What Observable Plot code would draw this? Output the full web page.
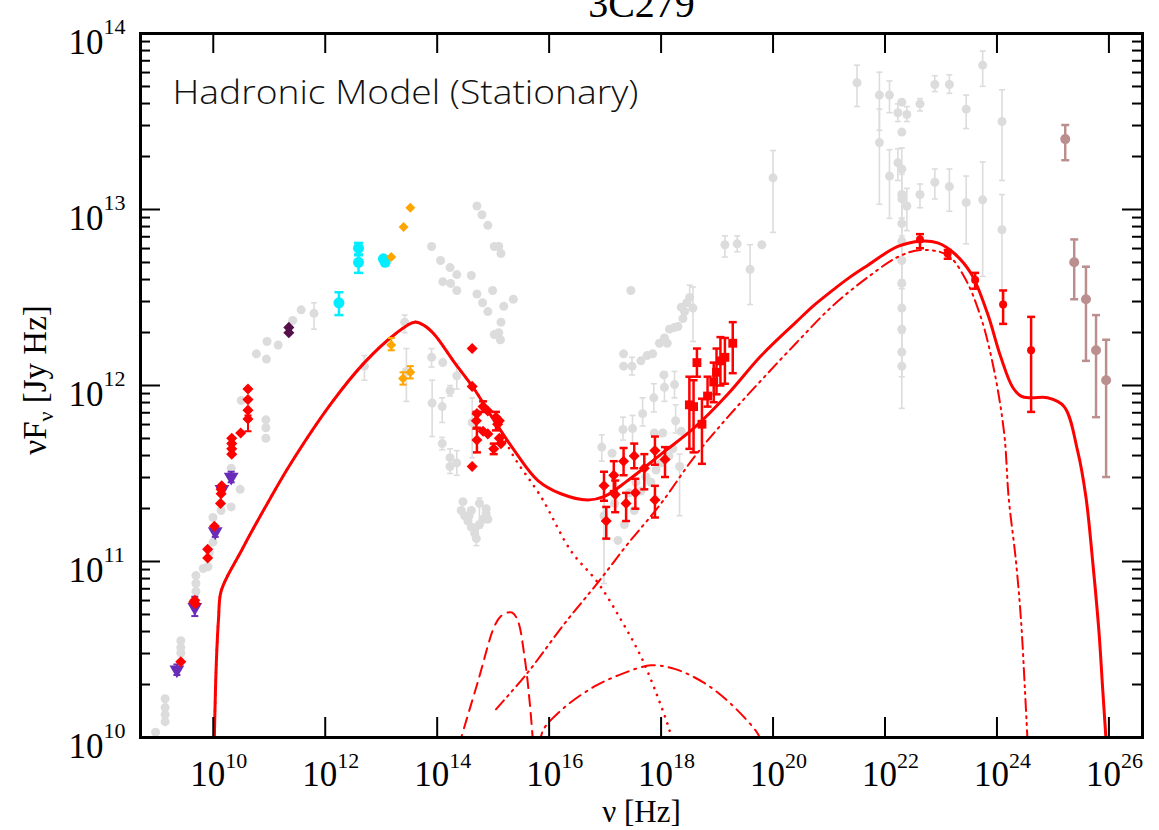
<!DOCTYPE html>
<html><head><meta charset="utf-8">
<script src="https://cdn.jsdelivr.net/npm/d3@7"></script>
<script src="https://cdn.jsdelivr.net/npm/@observablehq/plot@0.6"></script>
<style>body{margin:0;background:#fff;}</style>
</head><body><div id="chart"></div>
<script>
// All values are read off the log-log picture and stored as log10(value):
// [log10 ν, log10 νFν, log10 lower error, log10 upper error]
const xTickExps = [10, 12, 14, 16, 18, 20, 22, 24, 26];
const yTickExps = [10, 11, 12, 13, 14];

const archiveGray = [
[8.97,10.03],[9.14,10.22],[9.14,10.17],[9.14,10.13],[9.14,10.09],
[9.42,10.55],[9.42,10.51],[9.42,10.48],
[9.69,10.92],[9.69,10.875],[9.69,10.83],[9.82,10.96],[9.905,10.97],[9.93,11.05],
[9.995,11.11],[9.995,11.25],[10.14,11.29],[10.32,11.31],[10.48,11.41],[10.32,11.53],[10.5,11.915],
[10.94,11.805],[10.94,11.76],[10.94,11.70],
[10.77,12.18],[10.95,12.15],[10.96,12.25],[11.16,12.23],[11.42,12.37],[11.57,12.43],[11.80,12.41,12.32,12.47],
[12.70,12.11,12.03,12.17],[13.42,12.36,12.30,12.40],[13.45,12.08,11.91,12.21],
[13.90,12.79],[13.90,12.16,12.105,12.21],[13.91,11.90,11.71,12.03],
[14.06,12.71],[14.10,12.59],[14.23,12.67],[14.35,12.63],[14.61,12.625],[14.24,12.58],[14.35,12.54],
[14.71,13.02],[14.80,12.97],[14.905,12.91],[15.02,12.79],[15.10,12.79],[15.14,12.75],
[14.71,12.52],[14.81,12.47],[14.905,12.42],[14.99,12.54],[15.19,12.45],[15.36,12.49],[15.14,12.36],[15.02,12.29],[15.10,12.30],[15.13,12.26],
[14.10,12.13],[14.35,12.055,11.98,12.125],[14.23,11.97,11.94,12.0],[14.09,11.88,11.79,11.93],[14.09,11.67,11.635,11.705],[14.23,11.59,11.50,11.64],[14.23,11.54],[14.35,11.56,11.49,11.63],[14.625,11.79,11.59,11.93],
[14.43,11.29],[14.49,11.26],[14.55,11.23],[14.61,11.195],[14.67,11.16],[14.70,11.13,11.09,11.19],[14.755,11.21],[14.82,11.24],[14.875,11.27],[14.905,11.24],[14.875,11.30],[14.755,11.33,11.19,11.36],[14.61,11.29],[14.46,11.34],[14.57,11.26],[14.68,11.19],
[17.46,12.54],[17.33,12.18],[17.33,12.11],[17.48,12.11,12.06,12.16],[17.64,12.14],[17.75,12.17],[17.85,12.18],[17.97,12.24],[18.06,12.27],[18.11,12.24],[18.15,12.32],[18.24,12.33],[18.30,12.335],[18.39,12.38],[18.42,12.42],[18.36,12.445],[18.46,12.47],[18.51,12.50,12.43,12.57],[18.57,12.44,12.25,12.56],
[19.14,12.80,12.73,12.85],[19.36,12.805,12.76,12.85],[19.59,12.66,12.46,12.80],[19.80,12.80],[20.0,13.18,12.87,13.335],
[16.94,11.65,11.57,11.72],[17.125,11.615],[17.32,11.75,11.69,11.82],[17.49,11.755,11.67,11.83],[17.67,11.84,11.77,11.93],[17.87,11.93,11.85,12.01],[18.05,12.06],[18.06,11.99,11.91,12.075],[18.24,12.005,11.93,12.08],[18.26,11.80,11.73,11.89],[17.88,11.73],[18.03,11.73],[18.36,11.74],
[16.98,11.26,10.875,11.35],[17.23,11.12],[17.17,11.33],[17.345,11.21],[17.52,11.29],[18.33,11.54,11.26,11.61],
[17.55,11.45],[17.73,11.48],[17.91,11.52],[18.0,11.56],[18.14,11.60],[18.21,11.64],[17.43,11.39],[17.64,11.40],[17.82,11.45],
[21.5,13.72,13.585,13.82],[21.90,13.65,13.45,13.78],[21.90,13.38,13.03,13.57],[22.08,13.65,13.55,13.73],[22.08,13.19,12.95,13.34],[22.23,13.55,13.50,13.60],[22.23,13.265,13.165,13.345],
[22.30,13.61],[22.30,13.44],[22.30,13.23,13.1,13.35],[22.30,13.085],[22.30,13.06,12.95,13.2],[22.30,12.92,12.8,13.05],[22.30,12.82,12.7,12.95],[22.30,12.71,12.6,12.85],[22.30,12.58,12.45,12.7],[22.30,12.44,12.3,12.55],[22.30,12.32,12.2,12.45],[22.30,12.19,12.05,12.3],[22.30,12.11,11.87,12.2],
[22.39,13.54,13.50,13.585],[22.39,13.02,12.88,13.12],[22.625,13.60,13.56,13.63],[22.625,13.085,13.01,13.145],[22.89,13.71,13.67,13.76],[22.89,13.155,13.06,13.23],[23.15,13.71,13.66,13.765],[23.15,13.13,12.99,13.23],[23.45,13.57,13.46,13.65],[23.45,13.04,12.805,13.19],[23.745,13.82,13.70,13.90],[23.745,13.055,12.62,13.27],[24.09,13.50,13.165,13.68],[24.09,12.885,12.465,13.085]
];

const radioRed = [[9.42,10.43],[9.67,10.78],[9.68,10.76],[9.65,10.77],[9.90,11.07],[9.90,11.02],[10.02,11.20],[10.13,11.33],[10.14,11.385],[10.14,11.41],[10.15,11.43],[10.33,11.70],[10.33,11.67],[10.33,11.64],[10.33,11.61],[10.49,11.73],[10.62,11.98],[10.62,11.92],[10.62,11.86],[10.62,11.81,11.74,11.83]];
const opticalRed = [[14.625,12.21],[14.625,11.995],[14.625,11.54],[14.82,11.88,11.85,11.91],[14.71,11.84],[14.905,11.855],[14.70,11.80,11.755,11.85],[14.71,11.69,11.62,11.76],[14.82,11.74],[14.905,11.725],[15.05,11.82,11.745,11.85],[15.11,11.80],[15.08,11.78],[15.01,11.64,11.61,11.67],[15.11,11.70],[15.14,11.67]];
const xrayRedDiamond = [[16.98,11.43,11.345,11.51],[17.02,11.23,11.13,11.31],[17.155,11.49,11.40,11.57],[17.18,11.38,11.28,11.46],[17.33,11.57,11.49,11.645],[17.375,11.33,11.23,11.39],[17.52,11.60,11.53,11.67],[17.54,11.39,11.30,11.47],[17.70,11.53,11.41,11.61],[17.89,11.63,11.55,11.71],[17.89,11.35,11.25,11.43],[18.07,11.58,11.48,11.65]];
const xrayRedSquare = [[18.505,11.89,11.64,12.05],[18.58,11.88,11.62,12.03],[18.64,12.13,12.05,12.21],[18.73,11.78,11.555,11.925],[18.83,11.94,11.88,12.05],[18.94,12.02,11.905,12.13],[18.99,12.075,11.95,12.21],[19.06,12.14,12.0,12.275],[19.14,12.16,12.01,12.27],[19.28,12.24,12.07,12.36]];
const gammaRed = [[22.625,12.83,12.78,12.86],[23.12,12.75,12.72,12.77],[23.61,12.60,12.55,12.64],[24.11,12.46,12.35,12.54],[24.61,12.20,11.85,12.39]];
const tevBrown = [[25.22,13.40,13.28,13.48],[25.38,12.70,12.49,12.83],[25.59,12.49,12.14,12.675],[25.77,12.20,11.82,12.40],[25.95,12.03,11.48,12.26]];
const radioPurple = [[9.35,10.385,10.355,10.415],[9.67,10.74,10.69,10.80],[10.035,11.17,11.14,11.20],[10.155,11.41],[10.32,11.48,11.45,11.51]];
const mmDarkPurple = [[11.35,12.33],[11.35,12.30]];
const irCyan = [[12.245,12.47,12.40,12.53],[12.595,12.78,12.745,12.81],[12.595,12.70,12.64,12.74],[13.07,12.70],[13.04,12.72]];
const irOrange = [[13.52,13.01],[13.40,12.90],[13.18,12.73],[13.18,12.23,12.20,12.27],[13.39,12.04,12.005,12.075],[13.52,12.075,12.04,12.11]];

// model curves [log10 ν, log10 νFν]
const modelTotal = [[10.018,9.98],[10.054,10.42],[10.095,10.68],[10.143,10.835],[10.50,11.06],[11.02,11.36],[11.39,11.56],[12.11,11.90],[12.70,12.13],[13.24,12.29],[13.595,12.36],[13.77,12.34],[13.95,12.29],[14.31,12.13],[14.64,11.99],[15.02,11.80],[15.38,11.63],[15.80,11.46],[16.21,11.385],[16.69,11.35],[16.99,11.37],[17.405,11.46],[18.0,11.61],[18.595,11.76],[19.19,11.95],[19.79,12.17],[20.41,12.36],[20.71,12.45],[21.04,12.535],[21.35,12.61],[21.63,12.67],[22.23,12.79],[22.64,12.82],[22.94,12.81],[23.24,12.75],[23.54,12.635],[23.83,12.41],[24.07,12.16],[24.28,11.99],[24.43,11.94],[24.61,11.93],[24.905,11.93],[25.20,11.88],[25.44,11.63],[25.59,11.365],[25.71,11.0],[25.82,10.61],[25.89,10.27],[25.95,9.98]];
const modelElectronSync = [[10.018,9.98],[10.054,10.42],[10.095,10.68],[10.143,10.835],[10.50,11.06],[11.02,11.36],[11.39,11.56],[12.11,11.90],[12.70,12.13],[13.24,12.29],[13.595,12.36],[13.77,12.34],[13.95,12.29],[14.31,12.13],[14.64,11.99],[15.02,11.80],[15.38,11.59],[15.86,11.365],[16.39,11.06],[16.87,10.88],[17.29,10.665],[17.64,10.46],[17.94,10.23],[18.15,10.04],[18.21,9.955]];
const modelBumpDashed = [[14.39,9.955],[14.43,10.0],[14.73,10.32],[15.02,10.63],[15.14,10.69],[15.26,10.71],[15.34,10.71],[15.44,10.665],[15.56,10.46],[15.65,10.21],[15.71,9.98]];
const modelProtonSync = [[15.05,10.16],[15.62,10.37],[16.27,10.645],[16.87,10.88],[17.405,11.10],[18.0,11.33],[18.595,11.595],[19.19,11.82],[19.79,12.03],[20.41,12.24],[21.04,12.445],[21.63,12.60],[22.23,12.73],[22.64,12.77],[23.12,12.74],[23.42,12.615],[23.71,12.39],[23.95,12.085],[24.13,11.725],[24.21,11.36],[24.34,11.0],[24.43,10.665],[24.50,10.27],[24.55,9.955]];
const modelBumpDashDot = [[15.84,9.955],[15.89,10.04],[16.27,10.17],[16.81,10.29],[17.29,10.36],[17.82,10.41],[18.24,10.39],[18.77,10.31],[19.25,10.19],[19.73,10.02],[19.79,9.97]];

const W = 1159, H = 830, mL = 140, mR = 17, mT = 33, mB = 93;
const plotW = W - mL - mR, plotH = H - mT - mB;
const rows = a => a.map(([lx, ly, lo, hi]) => ({nu: 10 ** lx, f: 10 ** ly, lo: lo == null ? null : 10 ** lo, hi: hi == null ? null : 10 ** hi}));
const cap = {draw(ctx, size) { const r = Math.sqrt(size / Math.PI); ctx.moveTo(-r, 0); ctx.lineTo(r, 0); }};

function series(data, {color, symbol = "circle", r = 4.5, barW = 2, capR = 4, rotate = 0}) {
  const d = rows(data);
  const e = d.filter(p => p.lo != null);
  return [
    Plot.ruleX(e, {x: "nu", y1: "lo", y2: "hi", stroke: color, strokeWidth: barW}),
    Plot.dot(e, {x: "nu", y: "lo", symbol: cap, r: capR, stroke: color, strokeWidth: barW, fill: "none"}),
    Plot.dot(e, {x: "nu", y: "hi", symbol: cap, r: capR, stroke: color, strokeWidth: barW, fill: "none"}),
    Plot.dot(d, {x: "nu", y: "f", symbol, r, fill: color, stroke: "none", rotate})
  ];
}
const line = (data, opts) => Plot.line(rows(data), {x: "nu", y: "f", stroke: "#ff0000", curve: "catmull-rom", clip: true, ...opts});

const xMajor = xTickExps.map(e => 10 ** e);
const yMajor = yTickExps.map(e => 10 ** e);
const yMinor = yTickExps.slice(0, -1).flatMap(e => [2,3,4,5,6,7,8,9].map(m => m * 10 ** e));
const serif = "Liberation Serif, Times New Roman, serif";
const modelLabel = "Hadronic Model (Stationary)";

const plot = Plot.plot({
  width: W, height: H,
  marginLeft: mL, marginRight: mR, marginTop: mT, marginBottom: mB,
  x: {type: "log", domain: [10 ** 8.7, 10 ** 26.6], axis: null},
  y: {type: "log", domain: [1e10, 1e14], axis: null},
  style: {background: "#fff"},
  marks: [
    ...series(archiveGray, {color: "#dcdcdc", r: 4.5, barW: 1.6, capR: 3}),
    line(modelElectronSync, {strokeWidth: 2.6, strokeDasharray: "0.1,7.5", strokeLinecap: "round"}),
    line(modelBumpDashed, {strokeWidth: 2, strokeDasharray: "11,7"}),
    line(modelProtonSync, {strokeWidth: 2, strokeDasharray: "12,5,2,5,2,5"}),
    line(modelBumpDashDot, {strokeWidth: 2, strokeDasharray: "13,6,2,6"}),
    line(modelTotal, {strokeWidth: 3}),
    ...series(radioPurple, {color: "#6a2cb8", symbol: "triangle", r: 5.5, rotate: 180, barW: 2, capR: 3.5}),
    ...series(radioRed, {color: "#ff0000", symbol: "diamond2", r: 5, barW: 2, capR: 3.5}),
    ...series(mmDarkPurple, {color: "#55104a", symbol: "diamond2", r: 5}),
    ...series(irCyan, {color: "#00eeff", r: 5.5, barW: 2.5, capR: 4.5}),
    ...series(irOrange, {color: "#ffa500", symbol: "diamond2", r: 4.5, barW: 2, capR: 3.5}),
    ...series(opticalRed, {color: "#ff0000", symbol: "diamond2", r: 5, barW: 2.5, capR: 4}),
    ...series(xrayRedDiamond, {color: "#ff0000", symbol: "diamond2", r: 5, barW: 2.5, capR: 4}),
    ...series(xrayRedSquare, {color: "#ff0000", symbol: "square", r: 5, barW: 2.5, capR: 4}),
    ...series(gammaRed, {color: "#ff0000", r: 4, barW: 2.5, capR: 4}),
    ...series(tevBrown, {color: "#bc8f8f", r: 5, barW: 2.5, capR: 4}),
    // ticks (inward)
    Plot.tickX(xMajor, {x: d => d, insetTop: plotH - 20, stroke: "#000", strokeWidth: 2}),
    Plot.tickX(xMajor, {x: d => d, insetBottom: plotH - 20, stroke: "#000", strokeWidth: 2}),
    Plot.tickY(yMajor, {y: d => d, insetRight: plotW - 20, stroke: "#000", strokeWidth: 2}),
    Plot.tickY(yMajor, {y: d => d, insetLeft: plotW - 20, stroke: "#000", strokeWidth: 2}),
    Plot.tickY(yMinor, {y: d => d, insetRight: plotW - 10, stroke: "#000", strokeWidth: 2}),
    Plot.tickY(yMinor, {y: d => d, insetLeft: plotW - 10, stroke: "#000", strokeWidth: 2}),
    Plot.frame({stroke: "#000", strokeWidth: 3}),
    // tick labels
    Plot.text(xMajor, {x: d => d, text: () => "10", frameAnchor: "bottom", lineAnchor: "bottom", textAnchor: "end", dx: 12, dy: 48, fontSize: 35, fontFamily: serif, fill: "#000"}),
    Plot.text(xMajor, {x: d => d, text: d => String(Math.round(Math.log10(d))), frameAnchor: "bottom", lineAnchor: "bottom", textAnchor: "start", dx: 12, dy: 30, fontSize: 22, fontFamily: serif, fill: "#000"}),
    Plot.text(yMajor, {y: d => d, text: () => "10", frameAnchor: "left", lineAnchor: "bottom", textAnchor: "end", dx: -37, dy: 20, fontSize: 35, fontFamily: serif, fill: "#000"}),
    Plot.text(yMajor, {y: d => d, text: d => String(Math.round(Math.log10(d))), frameAnchor: "left", lineAnchor: "bottom", textAnchor: "start", dx: -37, dy: 0, fontSize: 22, fontFamily: serif, fill: "#000"}),
    Plot.text([modelLabel], {frameAnchor: "top-left", lineAnchor: "bottom", textAnchor: "start", dx: 32, dy: 70, fontSize: 33, fontFamily: "Open Sans, Liberation Sans, sans-serif", fontWeight: 300, fill: "#111"}),
    Plot.text(["ν [Hz]"], {frameAnchor: "bottom", lineAnchor: "bottom", dy: 84, fontSize: 31, fontFamily: serif, fill: "#000"}),
    Plot.text(["3C279"], {frameAnchor: "top", lineAnchor: "bottom", dy: -17, fontSize: 40, fontFamily: serif, fill: "#000"})
  ]
});

const svg = d3.select(plot);
svg.selectAll("text, tspan")
  .filter(function () { return this.textContent === modelLabel; })
  .attr("textLength", 466).attr("lengthAdjust", "spacingAndGlyphs");
const yt = svg.append("text")
  .attr("transform", "translate(46,380) rotate(-90)")
  .attr("text-anchor", "middle")
  .attr("font-family", serif).attr("font-size", 33).attr("fill", "#000");
yt.append("tspan").text("νF");
yt.append("tspan").attr("font-size", 22).attr("dy", 7).text("ν");
yt.append("tspan").attr("dy", -7).text(" [Jy Hz]");

document.getElementById("chart").appendChild(plot);
</script>
</body></html>
